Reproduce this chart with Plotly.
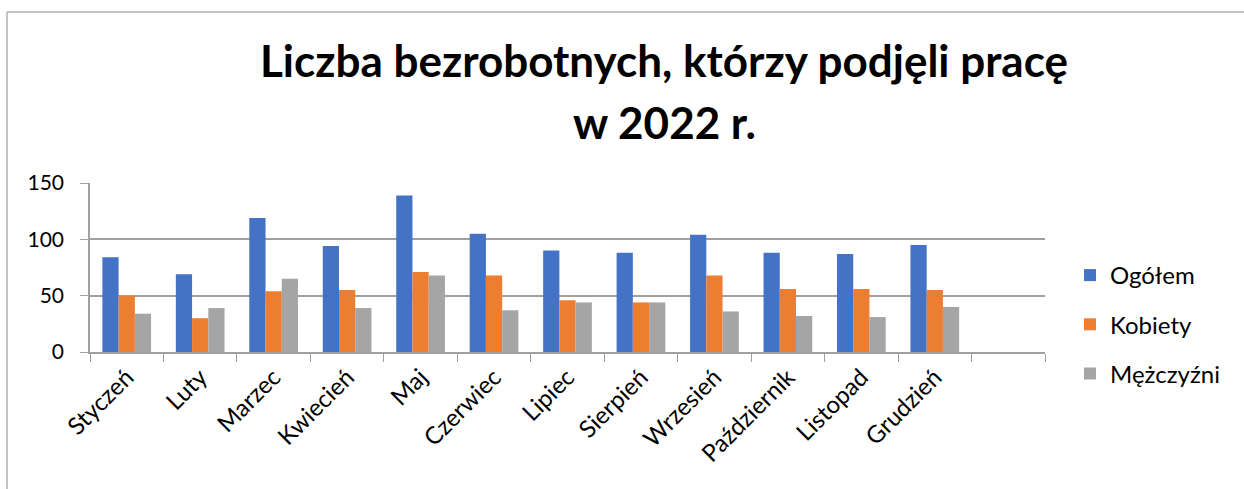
import plotly.graph_objects as go

months = ["Styczeń", "Luty", "Marzec", "Kwiecień", "Maj", "Czerwiec", "Lipiec",
          "Sierpień", "Wrzesień", "Październik", "Listopad", "Grudzień"]
ogolem = [84, 69, 119, 94, 139, 105, 90, 88, 104, 88, 87, 95]
kobiety = [50, 30, 54, 55, 71, 68, 46, 44, 68, 56, 56, 55]
mezczyzni = [34, 39, 65, 39, 68, 37, 44, 44, 36, 32, 31, 40]
y_ticks = [0, 50, 100, 150]
categories = months + [" "]

W, H = 1244, 489
L, R, T, B = 90, 1045, 183, 352
FONT = "Lato, Carlito, Calibri, sans-serif"

def px_x(x):
    return (x - L) / (R - L)

def px_y(y):
    return (B - y) / (B - T)

fig = go.Figure()
for name, vals, col, grp in [("Ogółem", ogolem, "#4472C4", "a"),
                             ("Kobiety", kobiety, "#ED7D31", "b"),
                             ("Mężczyźni", mezczyzni, "#A5A5A5", "c")]:
    fig.add_trace(go.Bar(x=months, y=vals, name=name, marker_color=col,
                         marker_line_width=0, legendgroup=grp))

fig.update_layout(
    width=W, height=H,
    margin=dict(l=L, r=W - R, t=T, b=H - B, autoexpand=False),
    paper_bgcolor="white", plot_bgcolor="white",
    font=dict(family=FONT, size=24, color="#000000"),
    barmode="group", bargap=0.337, bargroupgap=0,
    title=dict(text="<b>Liczba bezrobotnych, którzy podjęli pracę</b>",
               x=664 / W, xanchor="center", xref="container",
               y=1 - 62 / H, yanchor="middle", yref="container",
               font=dict(family=FONT, size=44, color="#000000")),
    xaxis=dict(type="category", categoryorder="array", categoryarray=categories,
               range=[-0.5, 12.5], tickson="boundaries", ticks="outside",
               ticklen=8, tickcolor="#A0A0A0", tickwidth=1, tickangle=-45,
               showline=True, linecolor="#A0A0A0", linewidth=1.5,
               showgrid=False, tickfont=dict(size=24, family=FONT)),
    yaxis=dict(range=[0, 150], tickvals=y_ticks, ticks="outside", ticklen=8,
               tickcolor="#A0A0A0", showline=True, linecolor="#A0A0A0",
               linewidth=1.5, showgrid=True, gridcolor="#A0A0A0", gridwidth=1.5,
               zeroline=False, ticklabelstandoff=12,
               tickfont=dict(size=21, family=FONT)),
    legend=dict(x=px_x(1070), xanchor="left", y=px_y(253), yanchor="top",
                tracegroupgap=15, font=dict(size=24, family=FONT),
                bgcolor="rgba(0,0,0,0)"),
    showlegend=True,
)
fig.add_annotation(text="<b>w 2022 r.</b>", xref="paper", yref="paper",
                   x=px_x(664), y=px_y(122), xanchor="center", yanchor="middle",
                   showarrow=False, font=dict(family=FONT, size=44, color="#000000"))

# outer chart border (top and left edges visible)
fig.add_shape(type="line", xref="paper", yref="paper",
              x0=px_x(7), x1=px_x(1250), y0=px_y(12), y1=px_y(12),
              line=dict(color="#B0B0B0", width=1.5))
fig.add_shape(type="line", xref="paper", yref="paper",
              x0=px_x(7), x1=px_x(7), y0=px_y(12), y1=px_y(495),
              line=dict(color="#B0B0B0", width=1.5))

fig.write_html("out.html", config={"displayModeBar": False},
               post_script="document.body.style.margin='0';document.body.style.overflow='hidden';")
